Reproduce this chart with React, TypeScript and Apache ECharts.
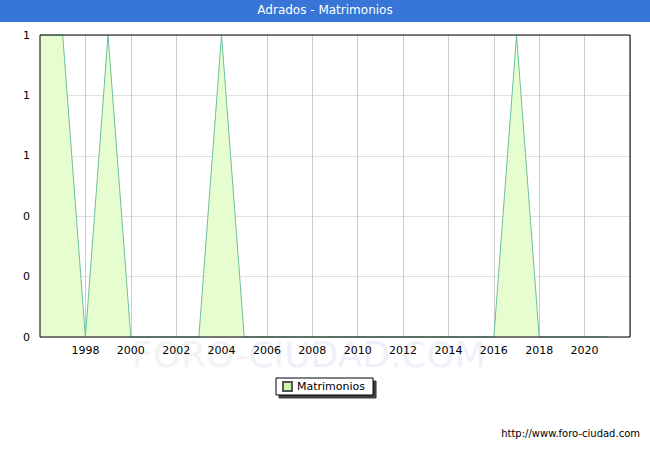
import { useEffect, useRef } from "react";
import * as echarts from "echarts";

const years = [
  1996, 1997, 1998, 1999, 2000, 2001, 2002, 2003, 2004, 2005, 2006, 2007, 2008,
  2009, 2010, 2011, 2012, 2013, 2014, 2015, 2016, 2017, 2018, 2019, 2020, 2021
];
const matrimonios = [
  1, 1, 0, 1, 0, 0, 0, 0, 1, 0, 0, 0, 0, 0, 0, 0, 0, 0, 0, 0, 0, 1, 0, 0, 0, 0
];
const titleText = "Adrados - Matrimonios";
const seriesName = "Matrimonios";
const sourceUrl = "http://www.foro-ciudad.com";
const watermarkA = "FORO-";
const watermarkB = "CIUDAD.COM";

const FONT = "DejaVu Sans, Verdana, sans-serif";

export default function App() {
  const ref = useRef<HTMLDivElement | null>(null);

  useEffect(() => {
    document.body.style.margin = "0";
    if (!ref.current) {
      return;
    }
    const chart = echarts.init(ref.current, undefined, { renderer: "svg" });
    chart.setOption({
      animation: false,
      backgroundColor: "#fff",
      textStyle: { fontFamily: FONT },
      grid: {
        left: 40,
        right: 20,
        top: 35,
        bottom: 113,
        show: false
      },
      graphic: [
        {
          type: "rect",
          left: 0,
          top: 0,
          shape: { width: 650, height: 22 },
          style: { fill: "#3775d6" },
          silent: true
        },
        {
          type: "text",
          left: "center",
          top: 4,
          style: { text: titleText, fill: "#fff", font: `12px ${FONT}` }
        },
        {
          type: "text",
          left: 132,
          top: 336,
          z: -10,
          silent: true,
          style: {
            text: `{a|${watermarkA}}{b|${watermarkB}}`,
            rich: {
              a: { fill: "#f3f3f3", font: `36px ${FONT}` },
              b: { fill: "#f0f0fb", font: `36px ${FONT}` }
            }
          }
        },
        {
          type: "text",
          right: 10,
          top: 428,
          style: { text: sourceUrl, fill: "#000", font: `10px ${FONT}` }
        },
        {
          // plot frame, drawn on top of grid lines
          type: "rect",
          z: 100,
          silent: true,
          shape: { x: 40, y: 35, width: 590, height: 302 },
          style: { fill: "none", stroke: "#000", lineWidth: 1 }
        }
      ],
      legend: {
        data: [seriesName],
        left: 276,
        top: 378,
        itemWidth: 9,
        itemHeight: 9,
        itemGap: 6,
        padding: [3, 8, 3, 6],
        borderColor: "#000",
        borderWidth: 1,
        backgroundColor: "#fff",
        shadowColor: "rgba(0,0,0,0.75)",
        shadowOffsetX: 3,
        shadowOffsetY: 3,
        shadowBlur: 0,
        textStyle: { fontSize: 11, color: "#000", fontFamily: FONT },
        icon: "rect"
      },
      xAxis: {
        type: "value",
        min: 1996,
        max: 2022,
        interval: 2,
        z: 3,
        axisLine: { show: false },
        axisTick: { show: false },
        axisLabel: {
          showMinLabel: false,
          showMaxLabel: false,
          formatter: (v: number) => String(v),
          fontSize: 11,
          color: "#000",
          margin: 8,
          fontFamily: FONT
        },
        splitLine: { show: true, lineStyle: { color: "#cccccc", width: 1 } }
      },
      yAxis: {
        type: "value",
        min: 0,
        max: 1,
        interval: 0.2,
        axisLine: { show: false },
        axisTick: { show: false },
        axisLabel: {
          formatter: (v: number) => String(Math.round(v)),
          fontSize: 11,
          color: "#000",
          margin: 10,
          fontFamily: FONT
        },
        splitLine: { show: true, lineStyle: { color: "#e0e0e0", width: 1 } }
      },
      series: [
        {
          name: seriesName,
          type: "line",
          data: years.map((y, i) => [y, matrimonios[i]]),
          showSymbol: false,
          symbol: "none",
          lineStyle: { color: "#6cc09a", width: 1 },
          itemStyle: { color: "#ccf5a8", borderColor: "#555", borderWidth: 1 },
          areaStyle: { color: "#e6fdcf", opacity: 1 }
        }
      ]
    });
    return () => {
      chart.dispose();
    };
  }, []);

  return (
    <div
      style={{
        width: 650,
        height: 450,
        boxSizing: "border-box",
        border: "1px solid #3775d6",
        position: "relative"
      }}
    >
      <div ref={ref} style={{ position: "absolute", left: -1, top: -1, width: 650, height: 450 }} />
    </div>
  );
}
